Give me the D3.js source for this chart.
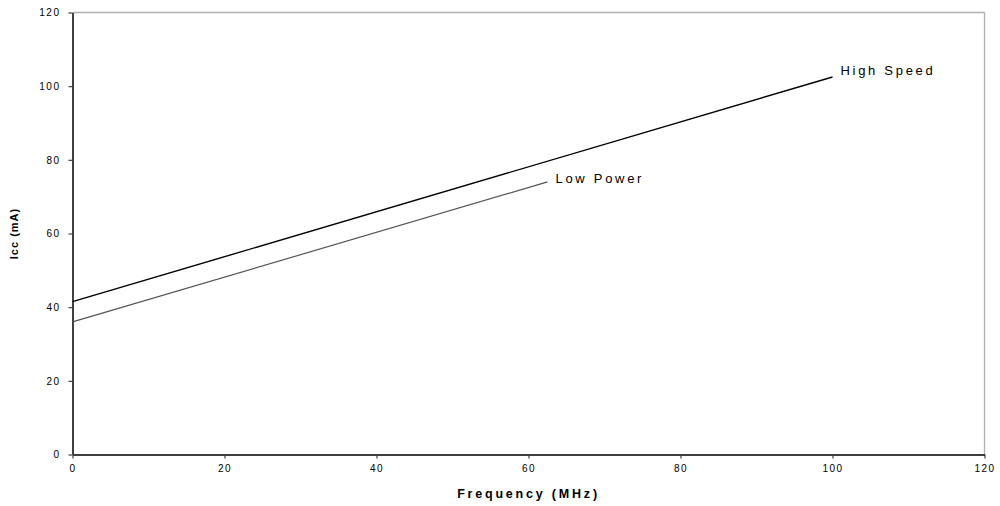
<!DOCTYPE html>
<html>
<head>
<meta charset="utf-8">
<script src="https://cdn.jsdelivr.net/npm/d3@7"></script>
<style>
  body { margin: 0; background: #fff; }
  text { font-family: Arial, "Liberation Sans", sans-serif; }
</style>
</head>
<body>
<div id="chart"></div>
<script>
// Data
const freqHigh = [0, 100];
const iccHigh = [41.5, 102.5];
const freqLow = [0, 62.5];
const iccLow = [36, 74];
const seriesNames = ["High Speed", "Low Power"];
const xTicks = [0, 20, 40, 60, 80, 100, 120];
const yTicks = [0, 20, 40, 60, 80, 100, 120];

const margin = {top: 12.5, right: 15.5, bottom: 51.5, left: 72.5},
    width = 1000 - margin.left - margin.right,
    height = 506 - margin.top - margin.bottom;

const svg = d3.select("#chart")
    .append("svg")
    .attr("width", 1000)
    .attr("height", 506)
    .append("g")
    .attr("transform", `translate(${margin.left},${margin.top})`);

const x = d3.scaleLinear().domain([0, 120]).range([0, width]);
const y = d3.scaleLinear().domain([0, 120]).range([height, 0]);

// top and right frame (light)
svg.append("line").attr("x1", 0).attr("x2", width).attr("y1", 0).attr("y2", 0)
    .attr("stroke", "#b0b0b0").attr("stroke-width", 1.3);
svg.append("line").attr("x1", width).attr("x2", width).attr("y1", 0).attr("y2", height)
    .attr("stroke", "#b0b0b0").attr("stroke-width", 1.3);

// axes
const xAxis = svg.append("g")
    .attr("transform", `translate(0,${height})`)
    .call(d3.axisBottom(x).tickValues(xTicks).tickSize(4).tickSizeOuter(0).tickPadding(6));
const yAxis = svg.append("g")
    .call(d3.axisLeft(y).tickValues(yTicks).tickSize(4).tickSizeOuter(0).tickPadding(8));

[xAxis, yAxis].forEach(a => {
    a.select(".domain").attr("stroke", "#404040").attr("stroke-width", 2);
    a.selectAll(".tick line").attr("stroke", "#404040").attr("stroke-width", 1.2);
    a.selectAll(".tick text")
        .attr("fill", "#000")
        .style("font-size", "10px")
        .style("letter-spacing", "1.5px")
        .style("font-family", "Arial, 'Liberation Sans', sans-serif");
});

// lines
const line = d3.line().x(d => x(d[0])).y(d => y(d[1]));
const series = [
    {name: seriesNames[0], pts: d3.zip(freqHigh, iccHigh), color: "#000", w: 1.4, dy: -1.5},
    {name: seriesNames[1], pts: d3.zip(freqLow, iccLow), color: "#555", w: 1.2, dy: 1}
];

svg.selectAll("path.series")
    .data(series)
    .enter()
    .append("path")
    .attr("class", "series")
    .attr("d", d => line(d.pts))
    .attr("fill", "none")
    .attr("stroke", d => d.color)
    .attr("stroke-width", d => d.w);

// end labels
svg.selectAll("text.lbl")
    .data(series)
    .enter()
    .append("text")
    .attr("class", "lbl")
    .attr("x", d => x(d.pts[d.pts.length - 1][0]) + 8)
    .attr("y", d => y(d.pts[d.pts.length - 1][1]) + d.dy)
    .style("font-size", "13px")
    .style("letter-spacing", "2.7px")
    .text(d => d.name);

// X axis label
svg.append("text")
    .attr("text-anchor", "middle")
    .attr("x", width / 2)
    .attr("y", height + 43)
    .style("font-size", "12.5px")
    .style("font-weight", "bold")
    .style("letter-spacing", "2.8px")
    .text("Frequency (MHz)");

// Y axis label
svg.append("text")
    .attr("text-anchor", "middle")
    .attr("x", -y(60))
    .attr("y", -55)
    .attr("transform", "rotate(-90)")
    .style("font-size", "11px")
    .style("font-weight", "bold")
    .style("letter-spacing", "1px")
    .text("Icc (mA)");
</script>
</body>
</html>
